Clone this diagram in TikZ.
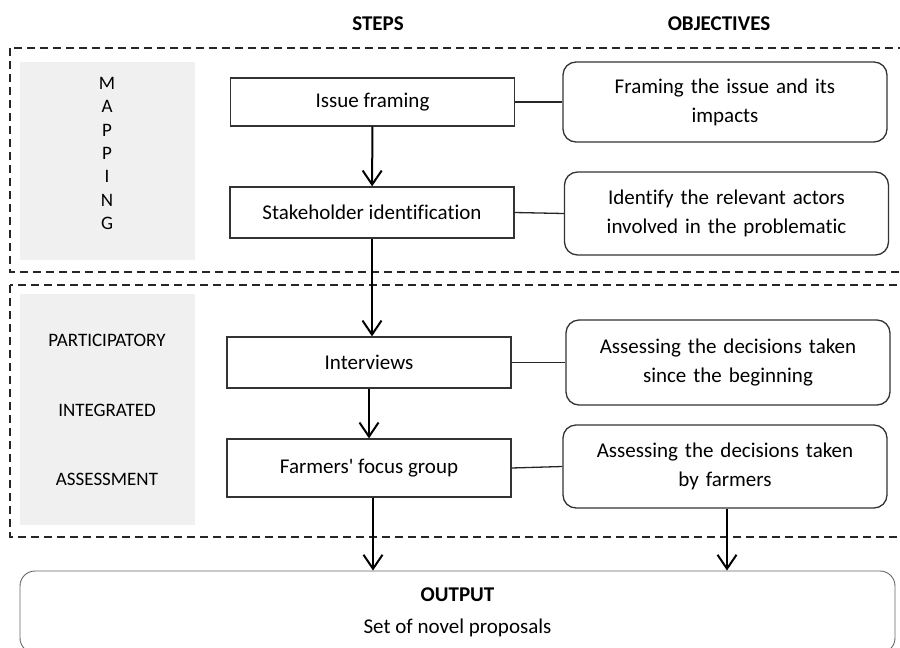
\documentclass[tikz,border=0pt]{standalone}
\usepackage{fontspec}
\newfontfamily\carl{Carlito}[Ligatures=NoCommon]
\usetikzlibrary{arrows.meta,positioning}

\tikzset{
  stepbox/.style={draw=black!80,line width=1.3pt,minimum width=284pt,minimum height=50pt,inner sep=0pt,font=\carl\fontsize{21}{29}\selectfont},
  objbox/.style={draw=black!80,line width=1.3pt,rounded corners=13pt,minimum width=324pt,minimum height=82pt,text width=310pt,align=center,inner sep=0pt,font=\carl\fontsize{21}{29}\selectfont},
  outbox/.style={draw=black!60,line width=0.9pt,rounded corners=15pt,minimum width=875pt,minimum height=82pt,align=center,inner sep=0pt,font=\carl\fontsize{21}{32}\selectfont},
  flow/.style={line width=2pt,-{Straight Barb[length=14pt,width=19pt]}},
  link/.style={line width=1.3pt,draw=black!85},
  frame/.style={dash pattern=on 8pt off 5pt,line width=1.5pt,draw=black!85},
  side/.style={fill=black!6},
  sidelabel/.style={font=\carl\fontsize{19}{23.3}\selectfont,align=center,inner sep=0pt},
  header/.style={font=\carl\fontsize{21}{25}\selectfont\bfseries}
}

\begin{document}
\begin{tikzpicture}[x=1pt,y=-1pt]
\useasboundingbox (0,0) rectangle (900,648);
\clip (0,0) rectangle (900,648);

% column titles
\node[header] (steps) at (378,24) {STEPS};
\node[header] (objs) at (719,24) {OBJECTIVES};

% the two phases
\draw[frame] (10,48) rectangle (910,272);
\draw[frame] (10,285) rectangle (910,537);
\fill[side] (20,62) rectangle (195,260);
\fill[side] (20,294) rectangle (195,525);
\node[sidelabel] (mapping) at (107,153.5) {M\\A\\P\\P\\I\\N\\G};
\node[sidelabel] (particip) at (107,340) {PARTICIPATORY};
\node[sidelabel] (integr) at (107,410) {INTEGRATED};
\node[sidelabel] (assess) at (107,479) {ASSESSMENT};

% steps
\node[stepbox,minimum height=48pt] (issue) at (372.5,102) {Issue framing};
\node[stepbox,minimum height=51pt] (stake) at (372,212.5) {Stakeholder identification};
\node[stepbox,minimum height=51pt] (interv) at (369,362.5) {Interviews};
\node[stepbox,minimum height=58pt] (farmers) at (369,468) {Farmers\symbol{39} focus group};

% objectives
\node[objbox,minimum height=80pt] (obj1) at (725,102) {Framing the issue and its\\impacts};
\node[objbox,minimum height=83pt] (obj2) at (726.5,213.5) {Identify the relevant actors\\involved in the problematic};
\node[objbox,minimum height=85pt] (obj3) at (728,362.5) {Assessing the decisions taken\\since the beginning};
\node[objbox,minimum height=83pt] (obj4) at (725,466.5) {Assessing the decisions taken\\by farmers};

% output
\node[outbox] (output) at (457.5,612) {\textbf{OUTPUT}\\Set of novel proposals};

% links
\draw[link] (issue.east) -- (obj1.west);
\draw[link] (stake.east) -- (obj2.west);
\draw[link] (interv.east) -- (obj3.west);
\draw[link] (farmers.east) -- (obj4.west);

% flow
\draw[flow] (issue) -- (stake);
\draw[flow] (stake.south) -- (stake.south |- interv.north);
\draw[flow] (interv.south) -- (farmers.north);
\draw[flow] ([xshift=4pt]farmers.south) -- ([xshift=4pt]farmers.south |- output.north);
\draw[flow] ([xshift=2pt]obj4.south) -- ([xshift=2pt]obj4.south |- output.north);
\end{tikzpicture}
\end{document}
